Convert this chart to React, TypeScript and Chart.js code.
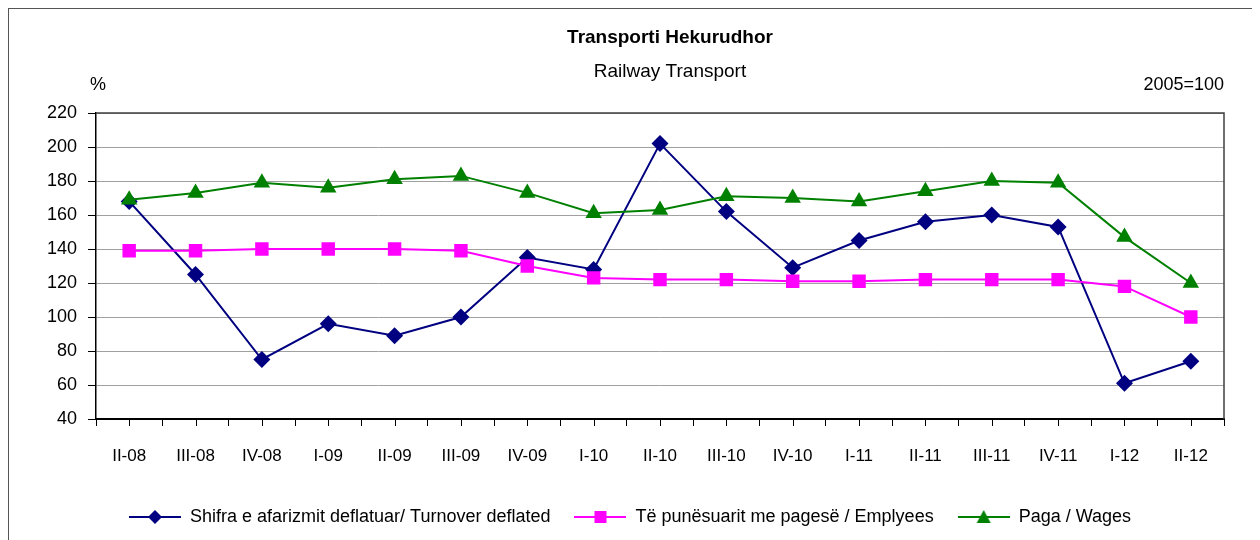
import React, { useEffect, useRef } from "react";
import { Chart, registerables } from "chart.js";

Chart.register(...registerables);

const categories = ["II-08", "III-08", "IV-08", "I-09", "II-09", "III-09", "IV-09", "I-10", "II-10", "III-10", "IV-10", "I-11", "II-11", "III-11", "IV-11", "I-12", "II-12"];
const turnover = [168, 125, 75, 96, 89, 100, 135, 128, 202, 162, 129, 145, 156, 160, 153, 61, 74];
const employees = [139, 139, 140, 140, 140, 139, 130, 123, 122, 122, 121, 121, 122, 122, 122, 118, 100];
const wages = [169, 173, 179, 176, 181, 183, 173, 161, 163, 171, 170, 168, 174, 180, 179, 147, 120];

const seriesNames = [
  "Shifra e afarizmit deflatuar/ Turnover deflated",
  "Të punësuarit me pagesë / Emplyees",
  "Paga / Wages",
];
const titleText = "Transporti Hekurudhor";
const subtitleText = "Railway Transport";
const unitText = "%";
const baseText = "2005=100";
const yMin = 40;
const yMax = 220;
const yStep = 20;

const FONT = "'Liberation Sans', Arial, sans-serif";

function legendImage(color: string, shape: string): HTMLCanvasElement {
  const c = document.createElement("canvas");
  c.width = 52;
  c.height = 16;
  const g = c.getContext("2d")!;
  g.strokeStyle = color;
  g.lineWidth = 2;
  g.beginPath();
  g.moveTo(0, 8);
  g.lineTo(52, 8);
  g.stroke();
  g.fillStyle = color;
  g.beginPath();
  if (shape === "diamond") {
    g.moveTo(26, 1);
    g.lineTo(33, 8);
    g.lineTo(26, 15);
    g.lineTo(19, 8);
  } else if (shape === "square") {
    g.rect(20, 2, 12, 12);
  } else {
    g.moveTo(26, 1);
    g.lineTo(33, 14);
    g.lineTo(19, 14);
  }
  g.closePath();
  g.fill();
  return c;
}

const decorPlugin = {
  id: "decor",
  afterDraw(chart: any) {
    const { ctx, chartArea } = chart;
    const x = chart.scales.x;
    ctx.save();
    // plot frame (top and right)
    ctx.strokeStyle = "#404040";
    ctx.lineWidth = 1.5;
    ctx.beginPath();
    ctx.moveTo(chartArea.left, chartArea.top);
    ctx.lineTo(chartArea.right, chartArea.top);
    ctx.lineTo(chartArea.right, chartArea.bottom);
    ctx.stroke();
    // category-centre tick marks
    ctx.strokeStyle = "#000";
    ctx.lineWidth = 1;
    for (let i = 0; i < categories.length; i++) {
      const px = Math.round(x.getPixelForTick(i)) + 0.5;
      ctx.beginPath();
      ctx.moveTo(px, chartArea.bottom);
      ctx.lineTo(px, chartArea.bottom + 7);
      ctx.stroke();
    }
    // texts
    const cx = (chartArea.left + chartArea.right) / 2 + 10;
    ctx.fillStyle = "#000";
    ctx.textAlign = "center";
    ctx.textBaseline = "alphabetic";
    ctx.font = `bold 19px ${FONT}`;
    ctx.fillText(titleText, cx, chartArea.top - 70);
    ctx.font = `19px ${FONT}`;
    ctx.fillText(subtitleText, cx, chartArea.top - 36);
    ctx.font = `18px ${FONT}`;
    ctx.textAlign = "left";
    ctx.fillText(unitText, chartArea.left - 6, chartArea.top - 23);
    ctx.textAlign = "right";
    ctx.fillText(baseText, chartArea.right, chartArea.top - 23);
    ctx.restore();
  },
};

export default function App() {
  const ref = useRef<HTMLCanvasElement>(null);
  useEffect(() => {
    const chart = new Chart(ref.current!, {
      type: "line",
      data: {
        labels: categories,
        datasets: [
          {
            label: seriesNames[0],
            data: turnover,
            borderColor: "#000080",
            backgroundColor: "#000080",
            borderWidth: 2,
            pointStyle: "rectRot",
            pointRadius: 8.5,
            pointBorderWidth: 0,
            order: 2,
          },
          {
            label: seriesNames[1],
            data: employees,
            borderColor: "#FF00FF",
            backgroundColor: "#FF00FF",
            borderWidth: 2,
            pointStyle: "rect",
            pointRadius: 9.5,
            pointBorderWidth: 0,
            order: 1,
          },
          {
            label: seriesNames[2],
            data: wages,
            borderColor: "#008000",
            backgroundColor: "#008000",
            borderWidth: 2,
            pointStyle: "triangle",
            pointRadius: 9.5,
            pointBorderWidth: 0,
            order: 0,
          },
        ],
      },
      options: {
        animation: false,
        responsive: false,
        layout: { padding: { left: 27, right: 36, top: 104, bottom: 4 } },
        plugins: {
          title: { display: false },
          tooltip: { enabled: false },
          legend: {
            position: "bottom",
            labels: {
              usePointStyle: true,
              pointStyleWidth: 52,
              padding: 24,
              color: "#000",
              font: { family: FONT, size: 18 },
              sort: (a: any, b: any) => a.datasetIndex - b.datasetIndex,
              generateLabels: (chart: any) => {
                const shapes = ["diamond", "square", "triangle"];
                return chart.data.datasets.map((ds: any, i: number) => ({
                  text: ds.label,
                  fillStyle: ds.backgroundColor,
                  strokeStyle: ds.borderColor,
                  lineWidth: 0,
                  pointStyle: legendImage(ds.borderColor, shapes[i]),
                  datasetIndex: i,
                  hidden: false,
                  fontColor: "#000",
                }));
              },
            },
          },
        },
        scales: {
          x: {
            offset: true,
            grid: {
              display: true,
              offset: true,
              drawOnChartArea: false,
              tickLength: 7,
              color: "#000",
            },
            border: { color: "#000", width: 2 },
            ticks: {
              color: "#000",
              padding: 20,
              maxRotation: 0,
              autoSkip: false,
              font: { family: FONT, size: 17 },
            },
            afterFit: (s: any) => {
              s.height = 65;
            },
          },
          y: {
            min: yMin,
            max: yMax,
            grid: {
              color: "#a0a0a0",
              tickColor: "#000",
              tickLength: 8,
              lineWidth: 1,
            },
            border: { color: "#000", width: 1.5 },
            ticks: {
              stepSize: yStep,
              color: "#000",
              padding: 11,
              font: { family: FONT, size: 18 },
            },
            afterFit: (s: any) => {
              s.width = 60;
            },
          },
        },
      },
      plugins: [decorPlugin],
    });
    return () => chart.destroy();
  }, []);

  return (
    <div
      style={{
        height: 532,
        borderLeft: "1px solid #555",
        borderTop: "1px solid #555",
        boxSizing: "border-box",
        overflow: "hidden",
        background: "#fff",
      }}
    >
      <canvas ref={ref} width={1251} height={531} style={{ display: "block" }} />
    </div>
  );
}
